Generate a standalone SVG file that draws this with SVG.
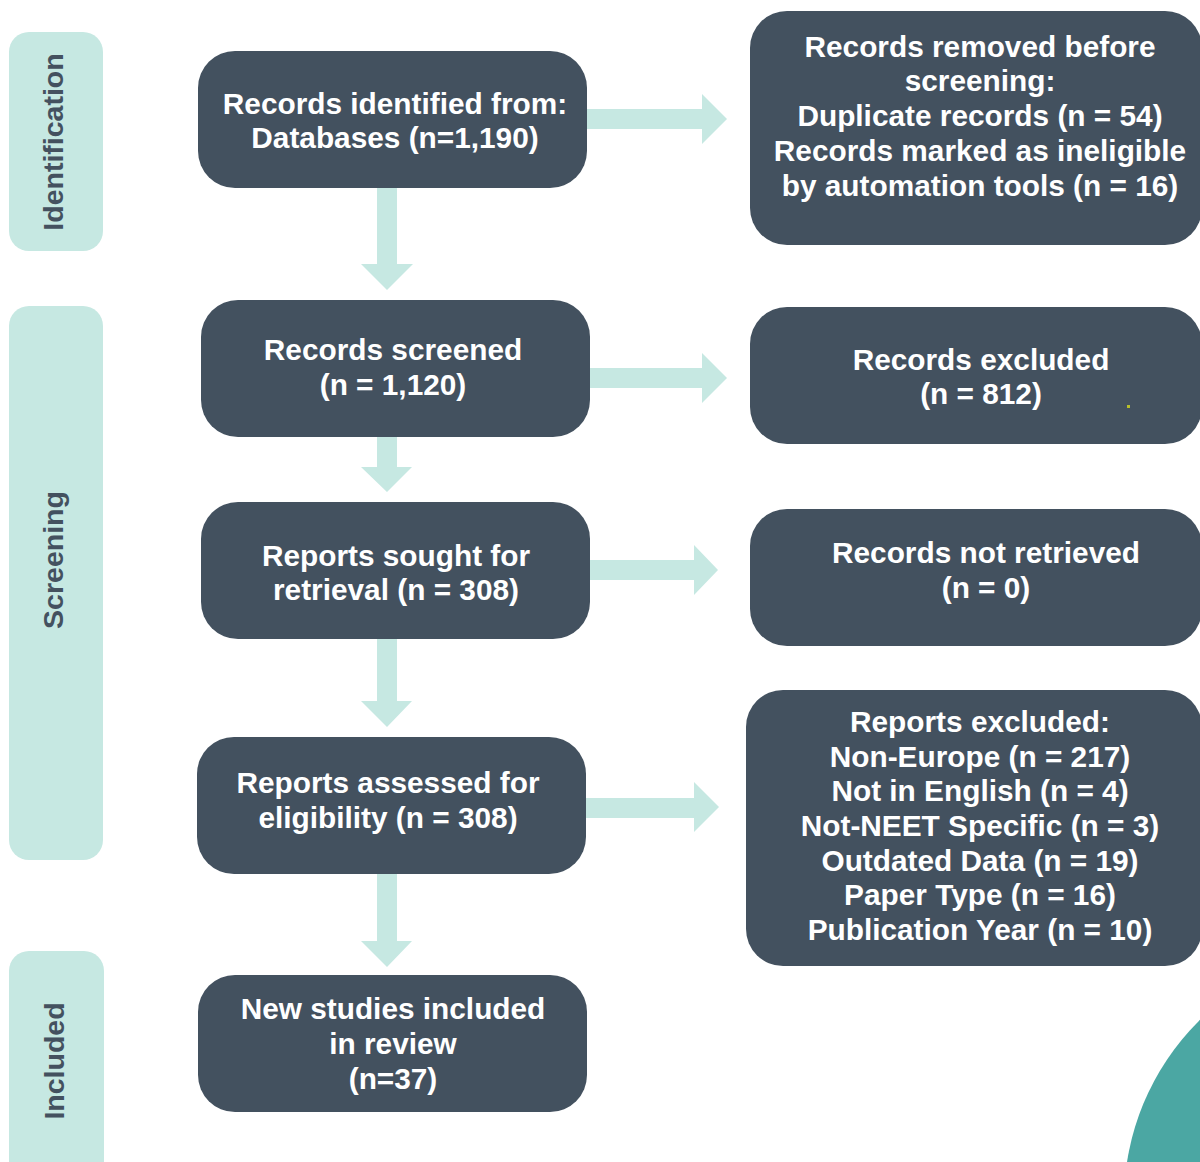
<svg xmlns="http://www.w3.org/2000/svg" width="1200" height="1162" viewBox="0 0 1200 1162">
<style>
.box{fill:#43515f}
.side{fill:#c6e8e2}
.arr{fill:#c6e8e2}
.t{font-family:"Liberation Sans",Arial,sans-serif;font-weight:bold;font-size:29.8px;fill:#ffffff;text-anchor:middle}
.s{font-family:"Liberation Sans",Arial,sans-serif;font-weight:bold;font-size:28.5px;fill:#44515f;text-anchor:middle}
</style>
<rect width="1200" height="1162" fill="#ffffff"/>
<circle cx="1378" cy="1201" r="254" fill="#4ba7a3"/>

<g id="stage-identification">
<rect class="side" x="9" y="32" width="94" height="219" rx="20"/>
<text class="s" transform="translate(63,142) rotate(-90)">Identification</text>
</g>
<g id="stage-screening">
<rect class="side" x="9" y="306" width="94" height="554" rx="20"/>
<text class="s" transform="translate(63,560) rotate(-90)">Screening</text>
</g>
<g id="stage-included">
<rect class="side" x="9" y="951" width="95" height="240" rx="20"/>
<text class="s" transform="translate(64,1061) rotate(-90)">Included</text>
</g>

<g id="connectors">
<polygon class="arr" points="587,109 702,109 702,94 727,119 702,144 702,129 587,129"/>
<polygon class="arr" points="590,368 702,368 702,353 727,378 702,403 702,388 590,388"/>
<polygon class="arr" points="590,560 694,560 694,545 718,570 694,595 694,580 590,580"/>
<polygon class="arr" points="586,798 694,798 694,782 719,807 694,832 694,818 586,818"/>
<polygon class="arr" points="377,188 397,188 397,264 413,264 387,290 361,264 377,264"/>
<polygon class="arr" points="377,437 397,437 397,467 412,467 387,492 361,467 377,467"/>
<polygon class="arr" points="377,639 397,639 397,701 412,701 387,727 361,701 377,701"/>
<polygon class="arr" points="377,874 397,874 397,941 412,941 387,967 361,941 377,941"/>
</g>

<g id="records-identified">
<rect class="box" x="198" y="51" width="389" height="137" rx="37"/>
<text class="t" x="395" y="114">Records identified from:</text>
<text class="t" x="395" y="148">Databases (n=1,190)</text>
</g>
<g id="records-screened">
<rect class="box" x="201" y="300" width="389" height="137" rx="37"/>
<text class="t" x="393" y="360">Records screened</text>
<text class="t" x="393" y="395">(n = 1,120)</text>
</g>
<g id="reports-sought">
<rect class="box" x="201" y="502" width="389" height="137" rx="37"/>
<text class="t" x="396" y="566">Reports sought for</text>
<text class="t" x="396" y="600">retrieval (n = 308)</text>
</g>
<g id="reports-assessed">
<rect class="box" x="197" y="737" width="389" height="137" rx="37"/>
<text class="t" x="388" y="793">Reports assessed for</text>
<text class="t" x="388" y="828">eligibility (n = 308)</text>
</g>
<g id="studies-included">
<rect class="box" x="198" y="975" width="389" height="137" rx="37"/>
<text class="t" x="393" y="1019">New studies included</text>
<text class="t" x="393" y="1054">in review</text>
<text class="t" x="393" y="1089">(n=37)</text>
</g>

<g id="records-removed">
<rect class="box" x="750" y="11" width="452" height="234" rx="37"/>
<text class="t" x="980" y="57">Records removed before</text>
<text class="t" x="980" y="91">screening:</text>
<text class="t" x="980" y="126">Duplicate records (n = 54)</text>
<text class="t" x="980" y="161">Records marked as ineligible</text>
<text class="t" x="980" y="196">by automation tools (n = 16)</text>
</g>
<g id="records-excluded">
<rect class="box" x="750" y="307" width="452" height="137" rx="37"/>
<text class="t" x="981" y="370">Records excluded</text>
<text class="t" x="981" y="404">(n = 812)</text>
<rect x="1127" y="405" width="3" height="3" fill="#b8bf2a"/>
</g>
<g id="records-not-retrieved">
<rect class="box" x="750" y="509" width="452" height="137" rx="37"/>
<text class="t" x="986" y="563">Records not retrieved</text>
<text class="t" x="986" y="598">(n = 0)</text>
</g>
<g id="reports-excluded">
<rect class="box" x="746" y="690" width="456" height="276" rx="37"/>
<text class="t" x="980" y="732">Reports excluded:</text>
<text class="t" x="980" y="767">Non-Europe (n = 217)</text>
<text class="t" x="980" y="801">Not in English (n = 4)</text>
<text class="t" x="980" y="836">Not-NEET Specific (n = 3)</text>
<text class="t" x="980" y="871">Outdated Data (n = 19)</text>
<text class="t" x="980" y="905">Paper Type (n = 16)</text>
<text class="t" x="980" y="940">Publication Year (n = 10)</text>
</g>
</svg>
